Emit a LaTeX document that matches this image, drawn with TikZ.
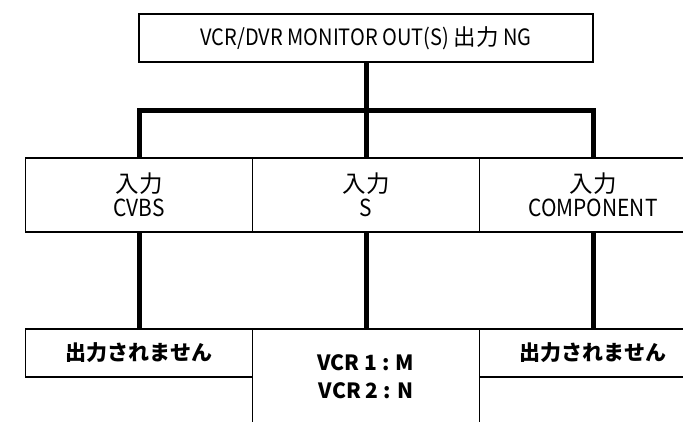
\documentclass[tikz,border=0pt]{standalone}
\usepackage{fontspec}
\setmainfont[FakeStretch=0.89]{Noto Sans CJK JP}
\newfontfamily\jpfont{Noto Sans CJK JP}
\usetikzlibrary{positioning}

\begin{document}
\begin{tikzpicture}[x=1pt, y=-1pt,
  box/.style={draw, line width=1.5pt, inner sep=0pt, outer sep=0pt, align=center,
    minimum width=227pt, font=\fontsize{23.5}{24}\selectfont},
  nobox/.style={box, minimum height=48pt, font=\jpfont\bfseries\fontsize{21}{28}\selectfont},
  link/.style={line width=5pt, line join=miter}]
\useasboundingbox (0,0) rectangle (683,421);
\clip (0,0) rectangle (683,421);

\node[box, minimum width=454pt, minimum height=48pt, font=\fontsize{22.5}{24}\selectfont] (monitor) at (366,38) {VCR/DVR MONITOR OUT(S) {\jpfont 出力} NG};

% inputs
\node[box, minimum height=74pt] (cvbs) at (139,195) {{\jpfont 入力}\\CVBS};
\node[box, minimum height=74pt, right=0pt of cvbs] (svideo) {{\jpfont 入力}\\S};
\node[box, minimum height=74pt, right=0pt of svideo] (comp) {{\jpfont 入力}\\COMPONENT};

% outputs
\node[nobox, anchor=north] (noout1) at (139,329) {出力されません};
\node[nobox, minimum height=95pt, anchor=north west] (vcrs) at (noout1.north east) {VCR 1 : M\\VCR 2 : N};
\node[nobox, anchor=north west] (noout2) at (vcrs.north east) {出力されません};

\coordinate (bar) at (366,110);
\draw[link] (monitor.south) -- (svideo.north);
\draw[link] (cvbs.north) |- (bar) -| (comp.north);
\foreach \a/\b in {cvbs/noout1, svideo/vcrs, comp/noout2}
  \draw[link] (\a.south) -- (\b.north);
\end{tikzpicture}
\end{document}
